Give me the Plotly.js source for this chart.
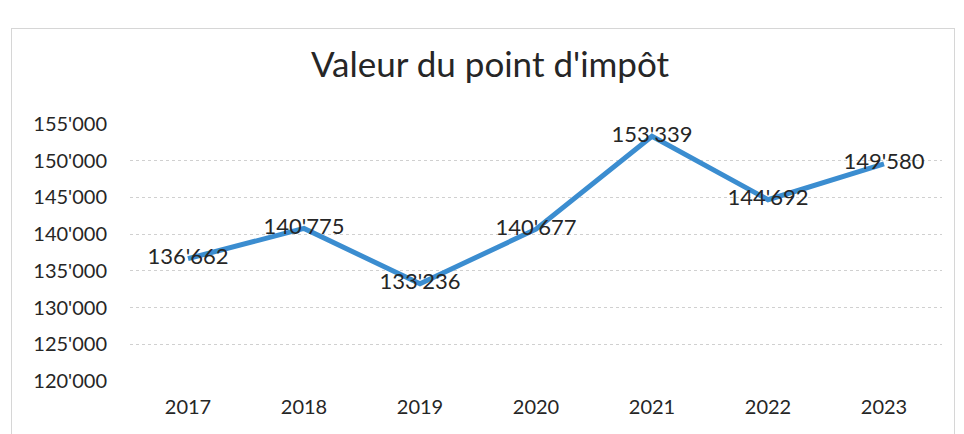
<!DOCTYPE html>
<html>
<head>
<meta charset="utf-8">
<script src="https://cdn.plot.ly/plotly-3.0.1.min.js"></script>
<style>
  html, body { margin: 0; padding: 0; background: #ffffff; }
  #wrap { position: relative; width: 964px; height: 434px; overflow: hidden; }
  #frame { position: absolute; left: 11px; top: 28px; width: 944px; height: 420px; border: 1px solid #d6d6d6; box-sizing: border-box; pointer-events: none; }
  #chart { position: absolute; left: 0; top: 0; width: 964px; height: 434px; }
</style>
</head>
<body>
<div id="wrap">
  <div id="chart"></div>
  <div id="frame"></div>
</div>
<script>
const years = ['2017', '2018', '2019', '2020', '2021', '2022', '2023'];
const values = [136662, 140775, 133236, 140677, 153339, 144692, 149580];
const yTicks = [120000, 125000, 130000, 135000, 140000, 145000, 150000, 155000];

const FONT = 'Lato, "Noto Sans", sans-serif';

const trace = {
  type: 'scatter',
  mode: 'lines+text',
  x: years,
  y: values,
  line: { color: '#3b8dd0', width: 5 },
  texttemplate: '%{y:,d}',
  textposition: 'middle center',
  textfont: { family: FONT, size: 22, color: '#262626' },
  hoverinfo: 'skip',
  cliponaxis: false
};

const layout = {
  width: 964,
  height: 434,
  separators: ".'",
  paper_bgcolor: 'rgba(0,0,0,0)',
  plot_bgcolor: 'rgba(0,0,0,0)',
  margin: { l: 130, r: 22, t: 124, b: 53 },
  showlegend: false,
  title: {
    text: "Valeur du point d'impôt",
    xref: 'container',
    x: 490 / 964,
    xanchor: 'center',
    yref: 'container',
    y: 1 - 65 / 434,
    yanchor: 'middle',
    font: { family: FONT, size: 35, color: '#262626' }
  },
  xaxis: {
    type: 'category',
    showgrid: false,
    zeroline: false,
    showline: false,
    ticks: '',
    ticklabelstandoff: 12,
    tickfont: { family: FONT, size: 20, color: '#262626' },
    range: [-0.5, 6.5]
  },
  yaxis: {
    range: [120000, 155000],
    tickvals: yTicks,
    tickformat: ',d',
    showgrid: true,
    gridcolor: '#d0d0d0',
    gridwidth: 1,
    griddash: 'dot',
    zeroline: false,
    showline: false,
    ticks: '',
    ticklabelstandoff: 22,
    tickfont: { family: FONT, size: 20, color: '#262626' }
  }
};

Plotly.newPlot('chart', [trace], layout, { displayModeBar: false, staticPlot: true });
</script>
</body>
</html>
